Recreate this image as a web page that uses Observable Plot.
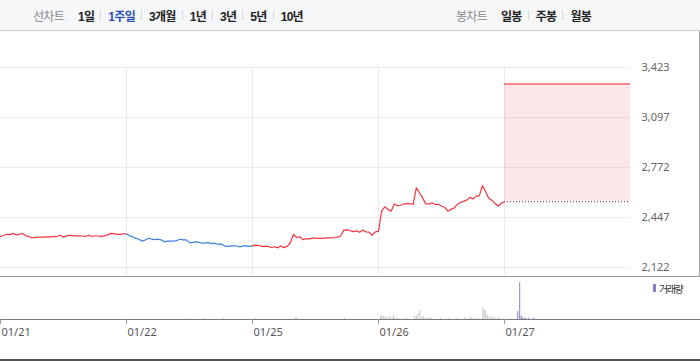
<!DOCTYPE html>
<html><head><meta charset="utf-8">
<script src="https://cdn.jsdelivr.net/npm/d3@7"></script>
<script src="https://cdn.jsdelivr.net/npm/@observablehq/plot@0.6"></script>
<style>
body{margin:0;background:#fff;font-family:"Liberation Sans","Noto Sans CJK KR",sans-serif;}
#wrap{position:relative;width:700px;height:362px;overflow:hidden;background:#fff}
#tabs{position:relative;height:30px;border-bottom:1px solid #cfd0d4;background:#f6f7f9;font-size:12px;letter-spacing:-0.7px}
.grp{position:absolute;top:0;height:30px;display:flex;align-items:center}
.lbl{color:#888;margin-right:14px}
.it{color:#222;font-weight:bold}
.it.on{color:#2850b8}
.sep{display:inline-block;width:1px;height:10px;background:#d8d8d8;margin:0 7px 0 6px}
#main{width:699px;height:245px;border-right:1px solid #aaa;border-bottom:1px solid #999}
#main svg,#vol svg{display:block}
#vol{width:700px;height:82px;border-bottom:2px solid #555}
#legend{position:absolute;left:653px;top:281px;height:14px;display:flex;align-items:center;font-size:10px;color:#333;letter-spacing:-1.4px}
#legend i{display:inline-block;width:3px;height:8px;background:#8c7dc8;margin-right:3px}
</style></head>
<body>
<div id="wrap">
  <div id="tabs"><div class="grp" id="left"></div><div class="grp" id="right"></div></div>
  <div id="main"></div>
  <div id="vol"></div>
  <div id="legend"><i></i><span>거래량</span></div>
</div>
<script>
// ---- data ----
const lineTabs = ["1일","1주일","3개월","1년","3년","5년","10년"];
const candleTabs = ["일봉","주봉","월봉"];
const dayLabels = ["01/21","01/22","01/25","01/26","01/27"];
const yTicks = [2122, 2447, 2772, 3097, 3423];

// 10-minute price samples per session
const p0121 = [2324,2332,2338,2336,2344,2334,2338,2344,2328,2324,2314,2318,2319,2319,2320,2321,2321,2323,2325,2332,2318,2328,2331,2329,2328,2328,2327,2324,2332,2325,2327,2327,2325,2328,2334,2344,2342,2337,2338,2341];
const p0122 = [2340,2328,2322,2311,2306,2293,2302,2312,2306,2303,2306,2302,2289,2293,2293,2293,2298,2306,2302,2302,2284,2284,2290,2285,2280,2282,2285,2277,2280,2273,2276,2263,2259,2263,2263,2262,2255,2263,2263,2259];
const p0125 = [2263,2268,2265,2259,2259,2259,2252,2257,2250,2262,2251,2260,2283,2337,2317,2322,2303,2309,2308,2313,2314,2311,2311,2313,2315,2315,2317,2320,2327,2365,2367,2361,2355,2360,2351,2366,2354,2352,2332,2354];
const p0126 = [2358,2490,2517,2500,2488,2535,2524,2527,2535,2538,2538,2532,2640,2608,2575,2536,2534,2543,2532,2532,2522,2514,2488,2500,2509,2532,2545,2552,2560,2578,2568,2586,2588,2655,2615,2572,2560,2538,2522,2540];
const lastClose = 2550;   // 01/26 close (reference for 01/27)
const upperLimit = 3315;  // 01/27 upper price limit

// volume: minute of session, value
const volMin0122 = [195,241,300];
const vol0122 = [3,3,3];
const volMin0125 = [9,133,137,285];
const vol0125 = [3,5,6,4];
const volMin0126 = [6,9,15,20,25,32,37,43,47,53,60,81,87,112,117,122,128,135,140,146,153,158,164,192,218,245,267,283,288,295,301,309,323,327,332,337,343,349,355,362,369,374,389];
const vol0126 = [8,10,10,8,5,6,8,4,14,4,4,4,4,10,10,18,28,8,8,4,6,4,4,4,4,4,6,6,4,4,4,4,36,28,24,12,10,8,6,4,6,4,4];
const volMin0127 = [41,47,52,56,60,66,75,91];
const vol0127 = [24,110,10,3,4,4,4,4];

// ---- tabs ----
const left = document.getElementById("left");
left.style.left = "33px";
left.innerHTML = '<span class="lbl">선차트</span>' + lineTabs.map((t,i)=>
  (i? '<span class="sep"></span>':'') + `<span class="it${t==="1주일"?" on":""}">${t}</span>`).join("");
const right = document.getElementById("right");
right.style.left = "456px";
right.innerHTML = '<span class="lbl">봉차트</span>' + candleTabs.map((t,i)=>
  (i? '<span class="sep"></span>':'') + `<span class="it">${t}</span>`).join("");

// ---- price chart ----
const days = [p0121, p0122, p0125, p0126];
const SESSION = 390;
const segs = days.map((arr, d) => {
  const pts = arr.map((p, i) => ({t: d + i / arr.length, p}));
  const next = d + 1 < days.length ? days[d + 1][0] : lastClose;
  pts.push({t: d + 1, p: next});
  return {pts, up: pts[pts.length - 1].p >= pts[0].p};
});
const red = "#f5333f", blue = "#3a7fe0";

const unitPerPx = (yTicks[4] - yTicks[0]) / 200;
const yBottom = yTicks[0] - 9 * unitPerPx;

const main = Plot.plot({
  width: 699, height: 245,
  marginLeft: 0, marginRight: 69, marginTop: 36, marginBottom: 0,
  x: {domain: [0, 5], axis: null, label: null},
  y: {domain: [yBottom, yTicks[4]], axis: null, label: null},
  style: {background: "transparent"},
  marks: [
    Plot.areaY([{t: 4}, {t: 5}], {x: "t", y1: lastClose, y2: upperLimit, fill: "#fde6e8", curve: "linear"}),
    Plot.ruleY(yTicks, {stroke: "#000", strokeOpacity: 0.075}),
    Plot.ruleX([1, 2, 3, 4], {stroke: "#000", strokeOpacity: 0.075}),
    Plot.ruleY([upperLimit], {x1: 4, x2: 5, stroke: "#f7868b", strokeWidth: 2}),
    Plot.ruleY([lastClose], {x1: 4, x2: 5, stroke: "#444", strokeDasharray: "1,2"}),
    ...segs.map(s => Plot.line(s.pts, {x: "t", y: "p", stroke: s.up ? red : blue, strokeWidth: 1.2})),
    Plot.axisY(yTicks, {anchor: "right", label: null, tickSize: 0, tickPadding: 11, tickFormat: d3.format(","), fontSize: 11, color: "#666"})
  ]
});
document.getElementById("main").append(main);

// ---- volume chart ----
const volDays = [[], [volMin0122, vol0122], [volMin0125, vol0125], [volMin0126, vol0126], [volMin0127, vol0127]];
const volPts = [];
volDays.forEach((v, d) => {
  if (!v.length) return;
  v[0].forEach((m, i) => volPts.push({t: d + m / SESSION, v: v[1][i], today: d === 4}));
});
const vol = Plot.plot({
  width: 700, height: 82,
  marginLeft: 0, marginRight: 70, marginTop: 0, marginBottom: 40,
  x: {domain: [0, 5], axis: null, label: null},
  y: {domain: [0, 126], axis: null, label: null},
  marks: [
    Plot.ruleX(volPts.filter(d => !d.today), {x: "t", y1: 0, y2: "v", stroke: "#c6c6c6", strokeWidth: 1}),
    Plot.ruleX(volPts.filter(d => d.today), {x: "t", y1: 0, y2: "v", stroke: "#8c7dc8", strokeWidth: 1}),
    Plot.ruleY([0], {x1: 0, x2: 5.6, stroke: "#7a7a7a"}),
    Plot.ruleX([0, 1, 2, 3, 4], {y1: 0, y2: -15, stroke: "#999"}),
    Plot.axisX([0, 1, 2, 3, 4], {anchor: "bottom", label: null, tickSize: 0, tickPadding: 9, tickFormat: i => dayLabels[i], textAnchor: "start", dx: 1, fontSize: 11, color: "#555"})
  ]
});
document.getElementById("vol").append(vol);
</script>
</body></html>
